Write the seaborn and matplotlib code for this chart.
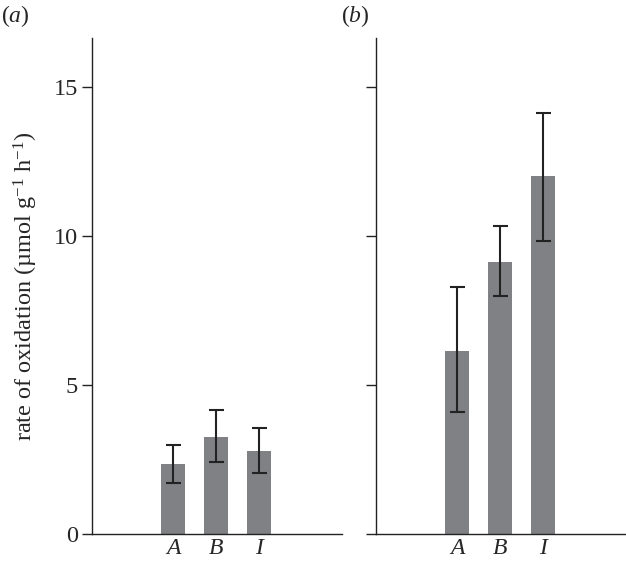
import matplotlib
matplotlib.use("Agg")
import matplotlib.pyplot as plt
import seaborn as sns
import pandas as pd
import numpy as np

categories = ["A", "B", "I"]
rate_a = [2.35, 3.26, 2.78]
err_low_a = [1.70, 2.41, 2.04]
err_high_a = [2.98, 4.16, 3.57]
rate_b = [6.15, 9.13, 12.0]
err_low_b = [4.10, 7.97, 9.83]
err_high_b = [8.28, 10.32, 14.1]
yticks = [0, 5, 10, 15]

sns.set_theme(style="ticks")
plt.rcParams["font.family"] = ["Liberation Serif", "DejaVu Serif"]
plt.rcParams["mathtext.fontset"] = "custom"
plt.rcParams["mathtext.rm"] = "Liberation Serif"
plt.rcParams["mathtext.it"] = "Liberation Serif:italic"

W, H = 626, 562
fig = plt.figure(figsize=(W / 100, H / 100), dpi=100)
bottom, top = 534, 38
ax_a = fig.add_axes([92 / W, (H - bottom) / H, 250 / W, (bottom - top) / H])
ax_b = fig.add_axes([376 / W, (H - bottom) / H, 250 / W, (bottom - top) / H])

bar_color = "#808185"
err_color = "#222222"

for ax, vals, lo, hi in [(ax_a, rate_a, err_low_a, err_high_a),
                         (ax_b, rate_b, err_low_b, err_high_b)]:
    df = pd.DataFrame({"cat": categories, "rate": vals})
    sns.barplot(data=df, x="cat", y="rate", ax=ax, color=bar_color,
                saturation=1, width=0.56, errorbar=None, edgecolor="none")
    v = np.array(vals)
    yerr = np.vstack([v - np.array(lo), np.array(hi) - v])
    ax.errorbar(np.arange(len(categories)), v, yerr=yerr, fmt="none",
                ecolor=err_color, elinewidth=1.5, capsize=5.4, capthick=1.5)
    ax.set_xlim(-1.884, 3.93)
    ax.set_ylim(0, 16.63)
    ax.set_yticks(yticks)
    ax.set_xlabel("")
    ax.set_ylabel("")
    for s in ["top", "right"]:
        ax.spines[s].set_visible(False)
    for s in ["left", "bottom"]:
        ax.spines[s].set_linewidth(1.0)
        ax.spines[s].set_color("#222222")
    ax.tick_params(axis="y", direction="out", length=7, width=1.0,
                   color="#222222", labelsize=17.5, pad=3)
    ax.tick_params(axis="x", length=0, labelsize=17, pad=3)
    for lab in ax.get_xticklabels():
        lab.set_fontstyle("italic")
    ax.set_facecolor("white")

ax_b.tick_params(axis="y", labelleft=False)
ax_a.set_ylabel("rate of oxidation (µmol g$^{-1}$ h$^{-1}$)", fontsize=17.5)
ax_a.yaxis.set_label_coords(-0.208, 0.5)

fig.text(1 / W, 1 - 16 / H, "($\\it{a}$)", fontsize=17, va="center", ha="left")
fig.text(341 / W, 1 - 16 / H, "($\\it{b}$)", fontsize=17, va="center", ha="left")

fig.savefig("out.png", dpi=100, facecolor="white")
